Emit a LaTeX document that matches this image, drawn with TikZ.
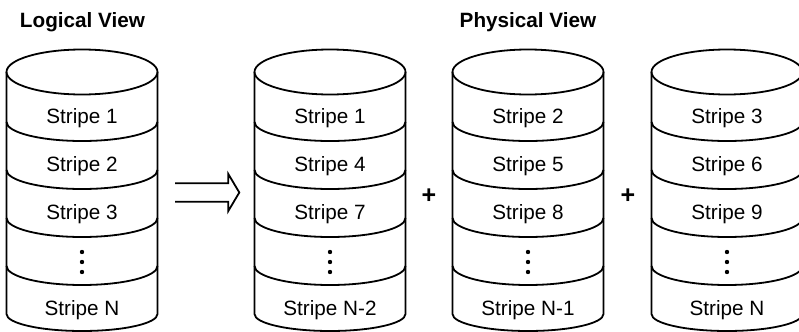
\documentclass[tikz,border=0pt]{standalone}
\usepackage{fontspec}
\setmainfont{Liberation Sans}
\usetikzlibrary{calc}

\begin{document}
\begin{tikzpicture}[x=0.5pt, y=-0.5pt, line width=0.9pt,
        every node/.style={font=\fontsize{10.35}{12}\selectfont, inner sep=0pt},
        title/.style={font=\fontsize{10.35}{12}\selectfont\bfseries, anchor=base},
        stripe/.style={anchor=base},
        plus/.style={font=\fontsize{12.5}{14}\selectfont\bfseries},
        disktop/.style={x radius=75.5, y radius=22.5},
        band/.style={start angle=180, end angle=0, x radius=75.5, y radius=19},
        diskbottom/.style={start angle=180, end angle=0, x radius=75.5, y radius=17}]
        \fill[white] (0,0) rectangle (799,332);
        \useasboundingbox (0,0) rectangle (799,332);

        % Titles
        \node[title] (logical) at (82.5,27.5) {Logical View};
        \node[title] (physical) at (528,27.5) {Physical View};

        % Logical disk
        \draw (82,72) ellipse [disktop];
        \draw (6.5,72) -- (6.5,314) arc[diskbottom] -- (157.5,72);
        \draw (6.5,122) arc[band];
        \draw (6.5,170) arc[band];
        \draw (6.5,218) arc[band];
        \draw (6.5,266) arc[band];
        \node[stripe] (l1) at (82,123) {Stripe 1};
        \node[stripe] (l2) at (82,171) {Stripe 2};
        \node[stripe] (l3) at (82,219) {Stripe 3};
        \fill (82,252) circle (2.2) (82,262) circle (2.2) (82,272) circle (2.2);
        \node[stripe] (lN) at (82,315) {Stripe N};

        % Arrow from logical to physical
        \coordinate (arrowtail) at (175,192.5);
        \coordinate (arrowtip) at (239.3,192.5);
        \draw[line join=miter] ($(arrowtail)+(0,-9.2)$) -- ($(arrowtip)+(-11,-9.2)$)
            -- ($(arrowtip)+(-11,-18.5)$) -- (arrowtip) -- ($(arrowtip)+(-11,18.5)$)
            -- ($(arrowtip)+(-11,9.2)$) -- ($(arrowtail)+(0,9.2)$);

        % Physical disk A
        \draw (330,72) ellipse [disktop];
        \draw (254.5,72) -- (254.5,314) arc[diskbottom] -- (405.5,72);
        \draw (254.5,122) arc[band];
        \draw (254.5,170) arc[band];
        \draw (254.5,218) arc[band];
        \draw (254.5,266) arc[band];
        \node[stripe] (a1) at (330,123) {Stripe 1};
        \node[stripe] (a4) at (330,171) {Stripe 4};
        \node[stripe] (a7) at (330,219) {Stripe 7};
        \fill (330,252) circle (2.2) (330,262) circle (2.2) (330,272) circle (2.2);
        \node[stripe] (aN) at (330,315) {Stripe N-2};

        \node[plus] (plus1) at (429,196) {+};

        % Physical disk B
        \draw (528,72) ellipse [disktop];
        \draw (452.5,72) -- (452.5,314) arc[diskbottom] -- (603.5,72);
        \draw (452.5,122) arc[band];
        \draw (452.5,170) arc[band];
        \draw (452.5,218) arc[band];
        \draw (452.5,266) arc[band];
        \node[stripe] (b2) at (528,123) {Stripe 2};
        \node[stripe] (b5) at (528,171) {Stripe 5};
        \node[stripe] (b8) at (528,219) {Stripe 8};
        \fill (528,252) circle (2.2) (528,262) circle (2.2) (528,272) circle (2.2);
        \node[stripe] (bN) at (528,315) {Stripe N-1};

        \node[plus] (plus2) at (628,196) {+};

        % Physical disk C
        \draw (727,72) ellipse [disktop];
        \draw (651.5,72) -- (651.5,314) arc[diskbottom] -- (802.5,72);
        \draw (651.5,122) arc[band];
        \draw (651.5,170) arc[band];
        \draw (651.5,218) arc[band];
        \draw (651.5,266) arc[band];
        \node[stripe] (c3) at (727,123) {Stripe 3};
        \node[stripe] (c6) at (727,171) {Stripe 6};
        \node[stripe] (c9) at (727,219) {Stripe 9};
        \fill (727,252) circle (2.2) (727,262) circle (2.2) (727,272) circle (2.2);
        \node[stripe] (cN) at (727,315) {Stripe N};
    \end{tikzpicture}
\end{document}
